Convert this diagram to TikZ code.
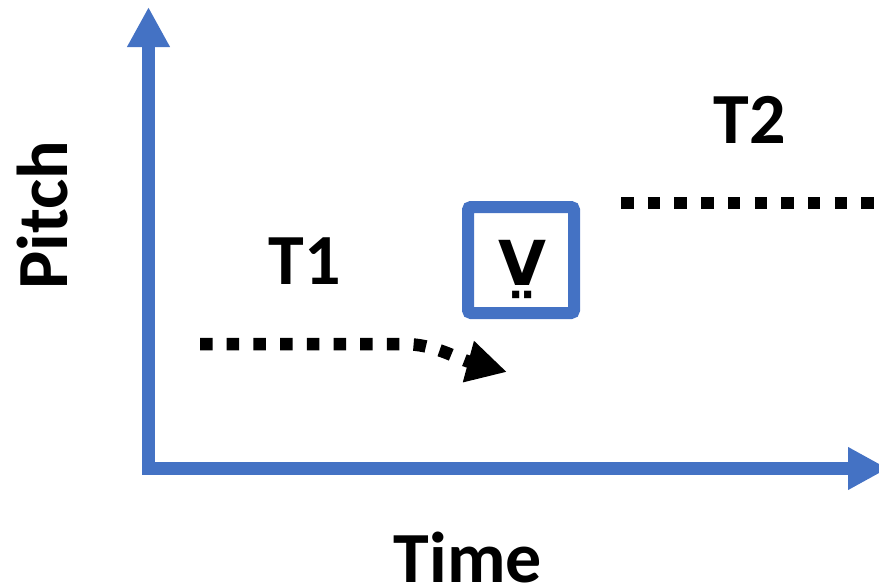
\documentclass[tikz,border=0pt]{standalone}
\usepackage{fontspec}
\newfontfamily\labelfont{Carlito}
\newfontfamily\markfont{DejaVu Sans}
\usetikzlibrary{arrows.meta}
\definecolor{axisblue}{HTML}{4472C4}
\tikzset{
  axisline/.style={draw=axisblue, line width=13pt, line join=miter,
    {Triangle[length=40pt,width=40pt]}-{Triangle[length=40pt,width=40pt]}},
  dotline/.style={draw=black, line width=12.5pt,
    dash pattern=on 12.5pt off 14.2pt},
  lbl/.style={font=\labelfont\bfseries\fontsize{72}{80}\selectfont,
    inner sep=0pt, anchor=base},
  vowelbox/.style={draw=axisblue, line width=12pt, rounded corners=3pt,
    minimum width=106pt, minimum height=106pt, inner sep=0pt}
}
\begin{document}
\begin{tikzpicture}[x=1pt, y=-1pt]
  \useasboundingbox (0,0) rectangle (879,587);

  % axes
  \coordinate (ytip) at (148.5,7);
  \coordinate (origin) at (148.5,468.5);
  \coordinate (xtip) at (888,468.5);
  \draw[axisline] (ytip) -- (origin) -- (xtip);

  % axis labels
  \node[lbl] (timelbl) at (468,582) {Time};
  \node[lbl, rotate=90] (pitchlbl) at (67,215) {Pitch};

  % vowel box with breathy-voice V
  \node[vowelbox] (vbox) at (521,260) {};
  \node[lbl, font=\markfont\bfseries\fontsize{62}{70}\selectfont]
    (vlabel) at (522,285) {V^^^^0324};

  % tone labels
  \node[lbl] (t1) at (305,284) {T1};
  \node[lbl] (t2) at (750,143) {T2};

  % tone contours
  \coordinate (t1start) at (200,344);
  \coordinate (t1bend) at (403,344);
  \coordinate (t1end) at (507,372);
  \draw[dotline, -{Triangle[length=40pt,width=40pt]}]
    (t1start) -- (t1bend) .. controls (435,344) and (455,358) .. (t1end);

  \coordinate (t2start) at (621,203);
  \coordinate (t2end) at (890,203);
  \draw[dotline] (t2start) -- (t2end);
\end{tikzpicture}
\end{document}
